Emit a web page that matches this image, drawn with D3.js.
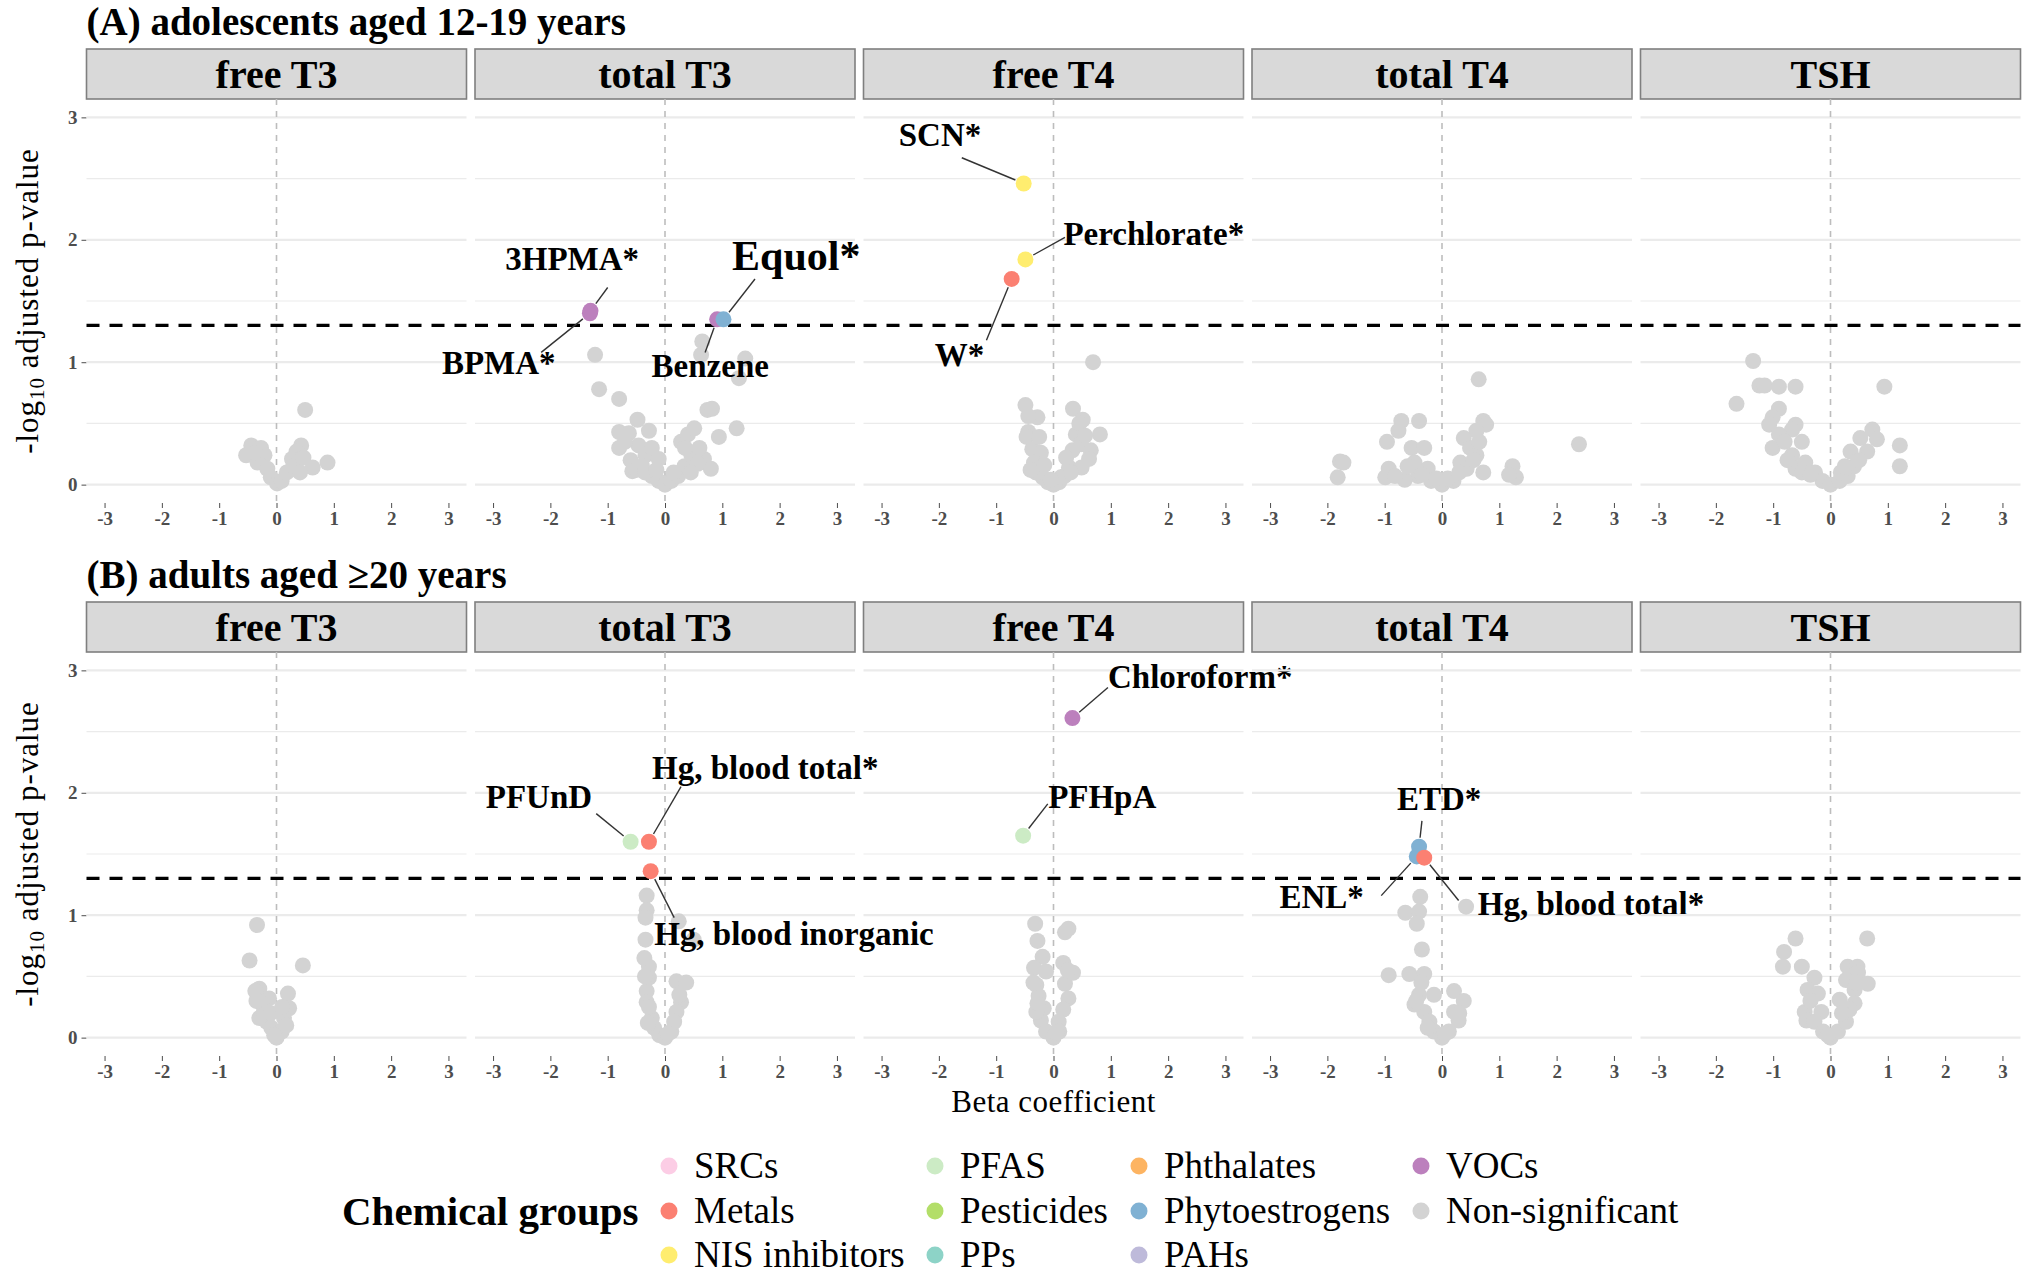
<!DOCTYPE html>
<html>
<head>
<meta charset="utf-8">
<script src="https://cdn.jsdelivr.net/npm/d3@7"></script>
<style>
  body { margin: 0; background: #fff; }
  svg { display: block; }
</style>
</head>
<body>
<div id="chart"></div>
<script>
// ---- data ----
const hormones = ["free T3", "total T3", "free T4", "total T4", "TSH"];

const groupNames = ["SRCs", "Metals", "NIS inhibitors", "PFAS", "Pesticides", "PPs",
                    "Phthalates", "Phytoestrogens", "PAHs", "VOCs", "Non-significant"];
const groupColors = ["#fccde5", "#fb8072", "#ffed6f", "#ccebc5", "#b3de69", "#8dd3c7",
                     "#fdb462", "#80b1d3", "#bebada", "#bc80bd", "#d3d3d3"];

const xTicks = [-3, -2, -1, 0, 1, 2, 3];
const yTicks = [0, 1, 2, 3];
const alpha = 0.05;

// non-significant chemicals, [beta, -log10 adjusted p]
const adolFreeT3 = [[0.50, 0.61], [0.89, 0.18], [0.63, 0.14], [0.43, 0.32], [0.35, 0.27], [0.27, 0.21],
  [-0.44, 0.32], [-0.53, 0.24], [-0.27, 0.30], [-0.21, 0.24], [-0.33, 0.18], [-0.16, 0.13], [-0.10, 0.06],
  [0.01, 0.01], [0.09, 0.03], [0.18, 0.10], [0.29, 0.15], [0.41, 0.10], [-0.38, 0.26], [0.47, 0.22]];
const adolTotalT3 = [[0.65, 1.17], [0.63, 1.06], [1.40, 1.03], [1.29, 0.87], [-1.22, 1.06], [-1.15, 0.78],
  [-0.80, 0.70], [-0.48, 0.53], [-0.80, 0.43], [-0.80, 0.30], [-0.63, 0.42], [-0.46, 0.32], [-0.34, 0.24],
  [-0.57, 0.11], [-0.40, 0.15], [-0.23, 0.07], [-0.11, 0.03], [0.00, 0.00], [0.11, 0.03], [0.23, 0.07],
  [0.34, 0.15], [0.28, 0.35], [0.40, 0.41], [0.51, 0.46], [0.74, 0.61], [0.82, 0.62], [0.94, 0.39],
  [1.25, 0.46], [0.68, 0.21], [0.80, 0.13], [0.46, 0.24], [0.57, 0.17], [-0.23, 0.30], [-0.11, 0.21],
  [-0.28, 0.44], [-0.60, 0.20], [-0.50, 0.12], [-0.35, 0.10], [0.45, 0.10], [0.60, 0.30], [0.35, 0.30],
  [-0.70, 0.35], [-0.15, 0.12], [0.15, 0.10]];
const adolFreeT4 = [[0.69, 1.00], [-0.49, 0.65], [-0.28, 0.55], [-0.44, 0.56], [0.34, 0.62], [0.51, 0.53],
  [0.81, 0.41], [-0.44, 0.43], [-0.47, 0.39], [-0.37, 0.29], [-0.22, 0.26], [-0.34, 0.18], [-0.31, 0.10],
  [-0.19, 0.06], [-0.10, 0.02], [0.00, 0.00], [0.10, 0.02], [0.19, 0.07], [0.27, 0.14], [0.33, 0.28],
  [0.39, 0.41], [0.45, 0.50], [0.48, 0.33], [0.65, 0.28], [0.62, 0.21], [0.49, 0.14], [0.22, 0.22],
  [0.13, 0.06], [-0.16, 0.16], [-0.25, 0.39], [-0.40, 0.12], [0.30, 0.10], [0.55, 0.40], [-0.05, 0.04]];
const adolTotalT4 = [[0.64, 0.86], [2.39, 0.33], [0.72, 0.52], [0.77, 0.49], [0.60, 0.44], [-0.71, 0.52],
  [-0.40, 0.52], [-0.76, 0.44], [-0.96, 0.35], [-1.78, 0.19], [-1.72, 0.18], [-1.82, 0.06], [-0.93, 0.13],
  [-0.99, 0.06], [-0.53, 0.30], [-0.31, 0.30], [-0.48, 0.18], [-0.25, 0.13], [-0.42, 0.07], [-0.19, 0.03],
  [0.00, 0.00], [0.20, 0.03], [0.32, 0.18], [0.38, 0.38], [0.49, 0.30], [0.60, 0.24], [0.72, 0.10],
  [0.43, 0.13], [1.23, 0.15], [1.29, 0.06], [1.17, 0.08], [-0.65, 0.04], [-0.82, 0.07], [-0.60, 0.15],
  [-0.35, 0.08], [0.10, 0.05], [0.30, 0.10], [0.55, 0.20], [0.65, 0.35], [-0.10, 0.05]];
const adolTSH = [[-1.35, 1.01], [-1.24, 0.81], [-1.15, 0.81], [-0.90, 0.80], [-0.61, 0.80], [-1.64, 0.66],
  [0.94, 0.80], [-0.90, 0.62], [-1.01, 0.55], [-1.07, 0.49], [-0.61, 0.49], [-0.67, 0.45], [-0.90, 0.41],
  [-0.50, 0.35], [-1.01, 0.30], [-0.67, 0.24], [-0.61, 0.13], [-0.44, 0.18], [-0.27, 0.10], [-0.14, 0.03],
  [0.00, 0.00], [0.16, 0.03], [0.30, 0.07], [0.41, 0.15], [0.35, 0.27], [0.52, 0.38], [0.73, 0.45],
  [0.81, 0.37], [0.64, 0.27], [1.21, 0.32], [1.21, 0.15], [0.18, 0.10], [-0.80, 0.35], [-0.75, 0.20],
  [-0.50, 0.10], [0.50, 0.20], [0.25, 0.15], [-0.35, 0.08]];

const adultFreeT3 = [[-0.34, 0.92], [-0.47, 0.63], [0.46, 0.59], [-0.30, 0.40], [-0.37, 0.38], [-0.13, 0.32],
  [0.20, 0.36], [0.22, 0.24], [-0.26, 0.28], [-0.30, 0.16], [-0.17, 0.13], [0.13, 0.16], [-0.09, 0.08],
  [0.00, 0.00], [0.09, 0.05], [0.17, 0.10], [-0.22, 0.21], [-0.04, 0.02], [-0.10, 0.20], [0.10, 0.25],
  [-0.35, 0.30]];
const adultTotalT3 = [[-0.32, 1.16], [-0.32, 1.04], [-0.34, 0.98], [0.24, 0.95], [0.50, 0.80], [-0.34, 0.80],
  [-0.28, 0.58], [-0.28, 0.49], [0.20, 0.46], [0.37, 0.45], [-0.32, 0.38], [-0.32, 0.29], [0.28, 0.29],
  [0.20, 0.21], [-0.23, 0.16], [-0.19, 0.08], [-0.10, 0.02], [0.00, 0.00], [0.11, 0.05], [0.16, 0.13],
  [-0.28, 0.25], [-0.35, 0.50], [-0.36, 0.65], [-0.30, 0.12], [0.25, 0.35], [0.05, 0.03]];
const adultFreeT4 = [[-0.32, 0.93], [0.26, 0.89], [0.20, 0.86], [-0.28, 0.79], [-0.19, 0.66], [0.17, 0.61],
  [-0.34, 0.57], [0.34, 0.53], [-0.13, 0.54], [-0.30, 0.43], [0.20, 0.44], [0.26, 0.32], [-0.26, 0.34],
  [-0.17, 0.24], [0.17, 0.23], [-0.22, 0.14], [0.09, 0.13], [-0.13, 0.05], [0.00, 0.00], [0.10, 0.05],
  [-0.30, 0.21], [-0.35, 0.45], [0.25, 0.55], [-0.28, 0.28], [0.05, 0.04]];
const adultTotalT4 = [[0.42, 1.07], [-0.38, 1.15], [-0.64, 1.02], [-0.40, 1.03], [-0.44, 0.93], [-0.35, 0.72],
  [-0.93, 0.51], [-0.57, 0.52], [-0.31, 0.52], [-0.40, 0.35], [-0.14, 0.35], [0.21, 0.38], [0.38, 0.30],
  [-0.31, 0.21], [0.29, 0.14], [-0.22, 0.13], [-0.14, 0.05], [0.00, 0.00], [0.12, 0.05], [0.21, 0.21],
  [-0.48, 0.27], [-0.45, 0.30], [-0.25, 0.08], [0.30, 0.20], [0.05, 0.03], [-0.36, 0.45]];
const adultTSH = [[-0.61, 0.81], [0.64, 0.81], [-0.81, 0.70], [-0.83, 0.58], [-0.50, 0.58], [-0.28, 0.49],
  [-0.40, 0.39], [-0.22, 0.36], [0.30, 0.58], [0.47, 0.58], [0.48, 0.53], [0.27, 0.47], [0.65, 0.44],
  [0.42, 0.39], [0.16, 0.31], [0.42, 0.28], [-0.45, 0.21], [-0.42, 0.14], [-0.16, 0.21], [-0.28, 0.13],
  [-0.13, 0.05], [0.00, 0.00], [0.13, 0.05], [0.27, 0.13], [0.33, 0.23], [-0.35, 0.30], [0.45, 0.45],
  [0.20, 0.20], [-0.05, 0.02]];

// significant chemicals with their repel-label anchor (label centre, segment start)
const adolSignificant = [
  {panel: "total T3", name: "3HPMA*", group: "VOCs", beta: -1.30, logp: 1.42, lb: -1.62, lp: 1.85, sb: -1.00, sp: 1.61},
  {panel: "total T3", name: "BPMA*", group: "VOCs", beta: -1.31, logp: 1.40, lb: -2.90, lp: 1.00, sb: -2.16, sp: 1.08},
  {panel: "total T3", name: "Benzene", group: "VOCs", beta: 0.91, logp: 1.35, lb: 0.79, lp: 0.97, sb: 0.70, sp: 1.08},
  {panel: "total T3", name: "Equol*", group: "Phytoestrogens", beta: 1.02, logp: 1.35, lb: 2.29, lp: 1.87, sb: 1.57, sp: 1.68},
  {panel: "free T4", name: "SCN*", group: "NIS inhibitors", beta: -0.52, logp: 2.46, lb: -1.98, lp: 2.86, sb: -1.60, sp: 2.67},
  {panel: "free T4", name: "Perchlorate*", group: "NIS inhibitors", beta: -0.49, logp: 1.84, lb: 1.75, lp: 2.05, sb: 0.20, sp: 2.02},
  {panel: "free T4", name: "W*", group: "Metals", beta: -0.73, logp: 1.68, lb: -1.64, lp: 1.06, sb: -1.17, sp: 1.18}
];
const adultSignificant = [
  {panel: "total T3", name: "PFUnD", group: "PFAS", beta: -0.60, logp: 1.60, lb: -2.20, lp: 1.97, sb: -1.20, sp: 1.83},
  {panel: "total T3", name: "Hg, blood total*", group: "Metals", beta: -0.28, logp: 1.60, lb: 1.75, lp: 2.21, sb: 0.28, sp: 2.05},
  {panel: "total T3", name: "Hg, blood inorganic", group: "Metals", beta: -0.25, logp: 1.36, lb: 2.25, lp: 0.85, sb: 0.16, sp: 0.98},
  {panel: "free T4", name: "Chloroform*", group: "VOCs", beta: 0.33, logp: 2.61, lb: 2.56, lp: 2.95, sb: 0.95, sp: 2.86},
  {panel: "free T4", name: "PFHpA", group: "PFAS", beta: -0.53, logp: 1.65, lb: 0.85, lp: 1.97, sb: -0.10, sp: 1.91},
  {panel: "total T4", name: "ETD*", group: "Phytoestrogens", beta: -0.40, logp: 1.56, lb: -0.05, lp: 1.95, sb: -0.35, sp: 1.77},
  {panel: "total T4", name: "ENL*", group: "Phytoestrogens", beta: -0.44, logp: 1.48, lb: -2.10, lp: 1.15, sb: -1.06, sp: 1.16},
  {panel: "total T4", name: "Hg, blood total*", group: "Metals", beta: -0.31, logp: 1.47, lb: 2.60, lp: 1.10, sb: 0.29, sp: 1.12}
];

const cohorts = [
  {title: "(A) adolescents aged 12-19 years",
   nonSig: [adolFreeT3, adolTotalT3, adolFreeT4, adolTotalT4, adolTSH], sig: adolSignificant},
  {title: "(B) adults aged \u226520 years",
   nonSig: [adultFreeT3, adultTotalT3, adultFreeT4, adultTotalT4, adultTSH], sig: adultSignificant}
];

// ---- layout ----
const W = 2040, H = 1282;
const FONT = "'Liberation Serif', 'Times New Roman', serif";
const panelLeft = 86.5, panelW = 380, panelStep = 388.5;
const stripH = 50, panelH = 404;
const rowTops = [99, 652];          // top of plotting area for each row
const dotR = 8;
const bigLabels = ["Equol*"];

const color = d3.scaleOrdinal().domain(groupNames).range(groupColors);

const svg = d3.select("#chart").append("svg")
  .attr("width", W).attr("height", H)
  .style("font-family", FONT);

cohorts.forEach((cohort, ri) => {
  const top = rowTops[ri];

  svg.append("text")
    .attr("x", panelLeft).attr("y", top - stripH - 14)
    .attr("font-size", 39).attr("font-weight", "bold")
    .text(cohort.title);

  const y = d3.scaleLinear().domain([-0.15, 3.15]).range([top + panelH, top]);

  // y axis (left panel only)
  const yAxis = d3.axisLeft(y).tickValues(yTicks).tickSize(5).tickPadding(4).tickFormat(d3.format("d"));
  const gy = svg.append("g").attr("transform", `translate(${panelLeft},0)`).call(yAxis);
  gy.select(".domain").remove();
  gy.selectAll("line").attr("stroke", "#4d4d4d");
  gy.selectAll("text").attr("font-size", 19).attr("font-weight", "bold")
    .attr("fill", "#4d4d4d").attr("font-family", FONT);

  // y title
  const yt = svg.append("text")
    .attr("transform", `translate(38,${top + panelH / 2}) rotate(-90)`)
    .attr("text-anchor", "middle").attr("font-size", 31).attr("letter-spacing", 1);
  yt.append("tspan").text("-log");
  yt.append("tspan").attr("font-size", 21).attr("dy", 6).text("10");
  yt.append("tspan").attr("dy", -6).text(" adjusted p-value");

  hormones.forEach((h, pi) => {
    const x0 = panelLeft + pi * panelStep;
    const x = d3.scaleLinear().domain([-3.315, 3.315]).range([x0, x0 + panelW]);
    const g = svg.append("g");

    // strip
    g.append("rect")
      .attr("x", x0).attr("y", top - stripH).attr("width", panelW).attr("height", stripH)
      .attr("fill", "#d9d9d9").attr("stroke", "#7f7f7f").attr("stroke-width", 1.6);
    g.append("text")
      .attr("x", x0 + panelW / 2).attr("y", top - stripH / 2).attr("dy", "0.35em")
      .attr("text-anchor", "middle").attr("font-size", 40).attr("font-weight", "bold")
      .text(h);

    // horizontal grid
    g.selectAll(".grid").data(d3.range(0, 3.01, 0.5)).join("line")
      .attr("x1", x0).attr("x2", x0 + panelW)
      .attr("y1", d => y(d)).attr("y2", d => y(d))
      .attr("stroke", "#ebebeb").attr("stroke-width", d => d % 1 === 0 ? 2.2 : 1.2);

    // zero line
    g.append("line")
      .attr("x1", x(0)).attr("x2", x(0)).attr("y1", top).attr("y2", top + panelH)
      .attr("stroke", "#bdbdbd").attr("stroke-width", 1.6).attr("stroke-dasharray", "6,6");

    // x axis
    const xAxis = d3.axisBottom(x).tickValues(xTicks).tickSize(5).tickPadding(4).tickFormat(d3.format("d"));
    const gx = g.append("g").attr("transform", `translate(0,${top + panelH})`).call(xAxis);
    gx.select(".domain").remove();
    gx.selectAll("line").attr("stroke", "#4d4d4d");
    gx.selectAll("text").attr("font-size", 19).attr("font-weight", "bold")
      .attr("fill", "#4d4d4d").attr("font-family", FONT).text(d => d3.format("d")(d).replace("\u2212", "-"));

    // significance threshold
    g.append("line")
      .attr("x1", x0).attr("x2", x0 + panelW)
      .attr("y1", y(-Math.log10(alpha))).attr("y2", y(-Math.log10(alpha)))
      .attr("stroke", "#000").attr("stroke-width", 3.4).attr("stroke-dasharray", "13,10");

    // non-significant points
    g.selectAll(".ns").data(cohort.nonSig[pi]).join("circle")
      .attr("cx", d => x(d[0])).attr("cy", d => y(d[1])).attr("r", dotR)
      .attr("fill", color("Non-significant"));

    // significant points + labels
    const sig = cohort.sig.filter(d => d.panel === h);
    g.selectAll(".seg").data(sig).join("line")
      .each(function (d) {
        const px = x(d.beta), py = y(d.logp);
        const sx = x(d.sb), sy = y(d.sp);
        const len = Math.hypot(sx - px, sy - py);
        const k = (dotR + 1) / len;
        d3.select(this)
          .attr("x1", sx).attr("y1", sy)
          .attr("x2", px + (sx - px) * k).attr("y2", py + (sy - py) * k);
      })
      .attr("stroke", "#333").attr("stroke-width", 1.4);
    g.selectAll(".sig").data(sig).join("circle")
      .attr("cx", d => x(d.beta)).attr("cy", d => y(d.logp)).attr("r", dotR)
      .attr("fill", d => color(d.group));
    g.selectAll(".lab").data(sig).join("text")
      .attr("x", d => x(d.lb)).attr("y", d => y(d.lp)).attr("dy", "0.35em")
      .attr("text-anchor", "middle").attr("font-weight", "bold")
      .attr("font-size", d => bigLabels.includes(d.name) ? 42 : 33)
      .text(d => d.name);
  });
});

// x title
svg.append("text")
  .attr("x", panelLeft + 2 * panelStep + panelW / 2).attr("y", 1112)
  .attr("text-anchor", "middle").attr("font-size", 31).attr("letter-spacing", 0.5)
  .text("Beta coefficient");

// legend
const legend = svg.append("g");
legend.append("text")
  .attr("x", 342).attr("y", 1211).attr("dy", "0.33em")
  .attr("font-size", 41).attr("font-weight", "bold")
  .text("Chemical groups");

const legendColX = [669, 935, 1139, 1421];
const legendRowY = [1166, 1211, 1255];
const items = legend.selectAll(".item").data(groupNames).join("g")
  .attr("transform", (d, i) => `translate(${legendColX[Math.floor(i / 3)]},${legendRowY[i % 3]})`);
items.append("circle").attr("r", 8.5).attr("fill", d => color(d));
items.append("text").attr("x", 25).attr("dy", "0.33em").attr("font-size", 37).text(d => d);
</script>
</body>
</html>
